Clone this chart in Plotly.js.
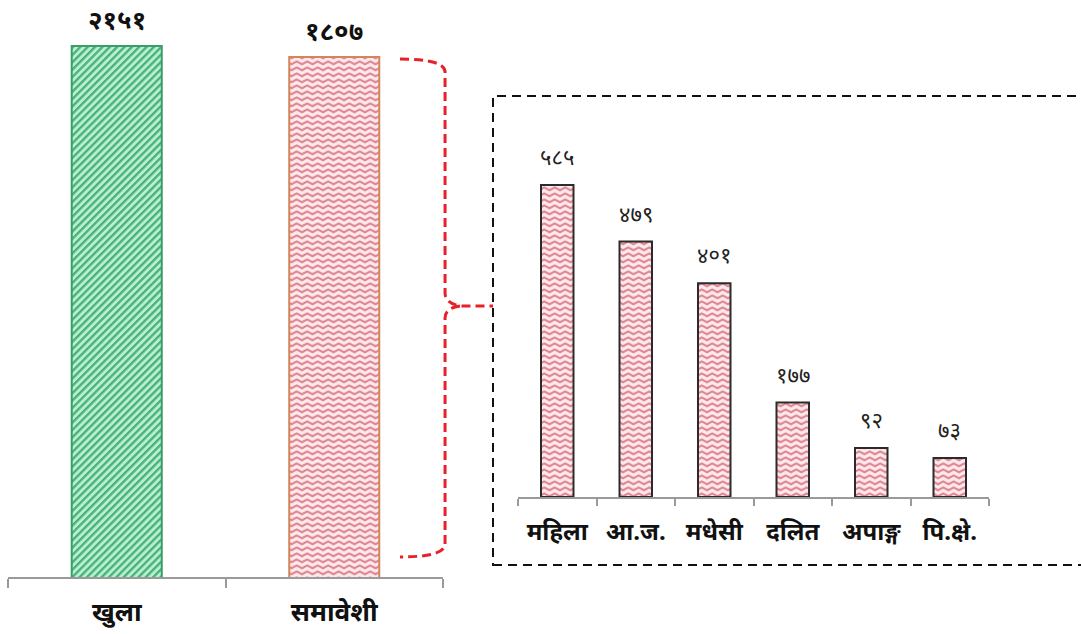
<!DOCTYPE html>
<html><head><meta charset="utf-8">
<script src="https://cdn.plot.ly/plotly-3.0.1.min.js"></script>
<style>html,body{margin:0;padding:0;background:#fff}#chart{width:1081px;height:634px}</style>
</head><body><div id="chart"></div>
<script>
// ---- data ----
const mainCategories = ['खुला', 'समावेशी'];
const mainValues = [2151, 1807];
const subCategories = ['महिला', 'आ.ज.', 'मधेसी', 'दलित', 'अपाङ्ग', 'पि.क्षे.'];
const subValues = [585, 479, 401, 177, 92, 73];

const DEV = ['०','१','२','३','४','५','६','७','८','९'];
const toDev = n => String(n).split('').map(d => DEV[+d] || d).join('');

const W = 1081, H = 634;
const px = x => x / W, py = y => 1 - y / H;
const FONT = 'Noto Sans, Noto Sans Devanagari, Lohit Devanagari, sans-serif';

const pinkBg = '#f7c9cf', greenBg = '#8fdcb1';

const mainTrace = {
  type: 'bar', x: mainCategories, y: mainValues, xaxis: 'x', yaxis: 'y',
  marker: {color: [greenBg, pinkBg], line: {color: ['#3d9d66', '#d4865a'], width: 2}},
  hoverinfo: 'skip', showlegend: false
};
const subTrace = {
  type: 'bar', x: subCategories, y: subValues, xaxis: 'x2', yaxis: 'y2',
  marker: {color: pinkBg, line: {color: '#2b2b2b', width: 2}},
  hoverinfo: 'skip', showlegend: false
};

const annotations = [];
mainCategories.forEach((c, i) => annotations.push({
  x: c, y: Math.log10(mainValues[i]), xref: 'x', yref: 'y', text: toDev(mainValues[i]),
  showarrow: false, yanchor: 'bottom', yshift: 7,
  font: {family: FONT, size: 26, color: '#111', weight: 'bold'}
}));
subCategories.forEach((c, i) => annotations.push({
  x: c, y: subValues[i], xref: 'x2', yref: 'y2', text: toDev(subValues[i]),
  showarrow: false, yanchor: 'bottom', yshift: 12,
  font: {family: FONT, size: 22, color: '#222'}
}));

// brace path (pixel coords -> paper)
const P = (x, y) => px(x).toFixed(4) + ',' + py(y).toFixed(4);
const bracePath =
  'M' + P(400, 59) + ' Q' + P(445, 59) + ' ' + P(445, 72) + ' L' + P(445, 293) +
  ' Q' + P(445, 303) + ' ' + P(460, 306) + ' L' + P(493, 306) +
  ' M' + P(460, 306) + ' Q' + P(445, 308) + ' ' + P(445, 318) + ' L' + P(445, 544) +
  ' Q' + P(445, 557) + ' ' + P(400, 557);

const shapes = [
  {type: 'path', xref: 'paper', yref: 'paper', path: bracePath,
   line: {color: '#e8202a', width: 3, dash: '9px,5px'}},
  {type: 'rect', xref: 'paper', yref: 'paper', x0: px(493), x1: px(1090), y0: py(565), y1: py(96),
   line: {color: '#111', width: 2, dash: '9px,6px'}, fillcolor: 'rgba(0,0,0,0)'}
];

const layout = {
  width: W, height: H, margin: {l: 0, r: 0, t: 0, b: 0},
  paper_bgcolor: '#fff', plot_bgcolor: 'rgba(0,0,0,0)',
  font: {family: FONT},
  bargap: 0.586,
  xaxis: {domain: [px(8), px(443)], type: 'category', tickson: 'boundaries', ticks: 'outside',
          ticklen: 9, tickcolor: '#9a9a9a', tickwidth: 2, showline: true, linecolor: '#9a9a9a', linewidth: 2,
          showgrid: false, zeroline: false, ticklabelstandoff: 11,
          tickfont: {family: FONT, size: 26, color: '#111', weight: 'bold'}},
  // log scale reproduces the reference's near-equal bar heights
  yaxis: {domain: [py(577), 1], type: 'log', range: [-0.3206, 3.6491], visible: false, fixedrange: true},
  xaxis2: {domain: [px(518), px(989)], type: 'category', tickson: 'boundaries', ticks: 'outside',
           ticklen: 7, tickcolor: '#9a9a9a', tickwidth: 2, showline: true, linecolor: '#9a9a9a', linewidth: 2,
           showgrid: false, zeroline: false, anchor: 'y2', ticklabelstandoff: 12,
           tickfont: {family: FONT, size: 24, color: '#111', weight: 'bold'}},
  yaxis2: {domain: [py(497), 1], range: [0, 931.9], visible: false, anchor: 'x2', fixedrange: true},
  annotations: annotations,
  shapes: shapes
};

const NS = 'http://www.w3.org/2000/svg';
function mk(tag, attrs, parent) {
  const e = document.createElementNS(NS, tag);
  for (const k in attrs) e.setAttribute(k, attrs[k]);
  if (parent) parent.appendChild(e);
  return e;
}

Plotly.newPlot('chart', [mainTrace, subTrace], layout, {staticPlot: true}).then(gd => {
  const svg = gd.querySelector('.main-svg');
  let defs = svg.querySelector('defs');
  if (!defs) defs = mk('defs', {}, svg);
  // zigzag fill
  const zz = mk('pattern', {id: 'zigzag', patternUnits: 'userSpaceOnUse', width: 10.5, height: 6}, defs);
  mk('rect', {x: 0, y: 0, width: 10.5, height: 6, fill: '#fde9ec'}, zz);
  mk('path', {d: 'M-0.5,4.6 L5.25,1.4 L11,4.6', fill: 'none', stroke: '#e08894', 'stroke-width': 2.2}, zz);
  // diagonal stripes
  const st = mk('pattern', {id: 'stripes', patternUnits: 'userSpaceOnUse', width: 5.2, height: 5.2,
                            patternTransform: 'rotate(45)'}, defs);
  mk('rect', {x: 0, y: 0, width: 5.2, height: 5.2, fill: '#b8eed2'}, st);
  mk('rect', {x: 0, y: 0, width: 2.3, height: 5.2, fill: '#47b275'}, st);

  const traces = svg.querySelectorAll('.barlayer .trace');
  traces.forEach((t, ti) => {
    t.querySelectorAll('.point path').forEach((p, pi) => {
      p.style.fill = (ti === 0 && pi === 0) ? 'url(#stripes)' : 'url(#zigzag)';
    });
  });
});
</script>
</body></html>
